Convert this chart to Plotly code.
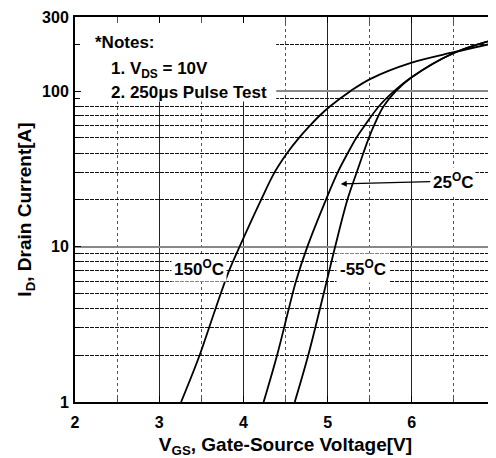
import numpy as np
import plotly.graph_objects as go

# ---- data (Vgs in V, Id in A) ----
vgs_150 = [3.26, 3.48, 3.67, 3.83, 3.955, 4.21, 4.37, 4.52, 4.66, 4.79, 4.91, 5.03, 5.27, 5.51, 5.99, 6.50, 7.00]
id_150 = [1, 2, 4, 7, 10, 20, 30, 40, 50, 60, 70, 80, 100, 120, 152, 178, 205]

vgs_25 = [4.24, 4.40, 4.54, 4.625, 4.76, 4.98, 5.12, 5.24, 5.34, 5.44, 5.61, 5.79, 5.99, 6.50, 7.00]
id_25 = [1, 2, 4, 6, 10, 20, 30, 40, 50, 60, 80, 100, 122, 176, 216]

vgs_m55 = [4.61, 4.77, 4.91, 4.99, 5.09, 5.235, 5.345, 5.425, 5.49, 5.55, 5.665, 5.81, 5.99, 6.50, 7.00]
id_m55 = [1, 2, 4, 6, 10, 20, 30, 40, 50, 60, 80, 100, 122, 176, 216]

x_ticks = [2, 3, 4, 5, 6, 7]
y_ticks = [1, 10, 100, 300]
y_tick_text = ["1", "10", "100", "300"]
y_minor = [2, 3, 4, 5, 6, 7, 8, 9, 20, 30, 40, 50, 60, 70, 80, 90, 200]

FONT = "Arial, Liberation Sans, sans-serif"

fig = go.Figure()
for vx, iy in [(vgs_150, id_150), (vgs_25, id_25), (vgs_m55, id_m55)]:
    fig.add_trace(go.Scatter(x=vx, y=iy, mode="lines",
                             line=dict(color="black", width=1.8, shape="spline", smoothing=1.0),
                             showlegend=False, hoverinfo="skip"))

# white box behind the notes (hides grid, not axes)
fig.add_shape(type="rect", xref="x", yref="y", layer="between",
              x0=2.0, x1=4.39, y0=10 ** 1.933, y1=300,
              fillcolor="white", line=dict(width=0))

def txt(s, x, y, size=17, xanchor="left", **kw):
    fig.add_annotation(text="<b>" + s + "</b>", x=x, y=y, xref="x", yref="y", showarrow=False,
                       xanchor=xanchor, yanchor="middle",
                       font=dict(family=FONT, size=size, color="black"), **kw)

txt("*Notes:", 2.213, 2.311)
txt("1. V<sub>DS</sub> = 10V", 2.406, 2.137)
txt("2. 250\u03bcs Pulse Test", 2.406, 1.993)

txt("150<sup>O</sup>C", 3.477, 0.863, xanchor="center", bgcolor="white", borderpad=2)
txt("-55<sup>O</sup>C", 5.42, 0.863, xanchor="center", bgcolor="white", borderpad=3)

fig.add_annotation(text="<b>25<sup>O</sup>C</b>", x=5.156, y=1.4026, xref="x", yref="y",
                   showarrow=True, ax=112, ay=-3, axref="pixel", ayref="pixel",
                   arrowhead=2, arrowsize=1, arrowwidth=1.2, arrowcolor="black",
                   bgcolor="white", borderpad=2,
                   font=dict(family=FONT, size=17, color="black"))

tickfont = dict(family=FONT, size=16, color="black")
# page body has an 8px margin, so the figure is sized to fit the 496x458 window
fig.update_layout(
    width=488, height=450,
    margin=dict(l=67, r=0, t=9, b=56, autoexpand=False),
    paper_bgcolor="white", plot_bgcolor="white",
    showlegend=False,
    xaxis=dict(
        range=[2, 7], tickvals=x_ticks, ticktext=["<b>%d</b>" % v for v in x_ticks],
        automargin=False,
        showgrid=True, gridcolor="#222", gridwidth=1,
        minor=dict(dtick=0.5, tick0=2, showgrid=True, gridcolor="#555", griddash="dot",
                   gridwidth=1, ticks="inside", ticklen=6, tickcolor="#555"),
        ticks="inside", ticklen=6, tickcolor="black",
        showline=True, linecolor="black", linewidth=2, mirror="allticks",
        zeroline=False, tickfont=tickfont, ticklabelstandoff=5,
        title=dict(text="<b>V<sub>GS</sub>, Gate-Source Voltage[V]</b>", standoff=13,
                   font=dict(family=FONT, size=19, color="black")),
    ),
    yaxis=dict(
        type="log", range=[0, np.log10(300)],
        tickmode="array", tickvals=y_ticks, ticktext=["<b>%s</b>" % t for t in y_tick_text],
        automargin=False,
        showgrid=True, gridcolor="#888", gridwidth=2,
        minor=dict(tickmode="array", tickvals=y_minor, showgrid=True, gridcolor="#111",
                   griddash="4px,1px", gridwidth=1, ticks="inside", ticklen=5, tickcolor="black"),
        ticks="inside", ticklen=6, tickcolor="black",
        showline=True, linecolor="black", linewidth=2, mirror="allticks",
        zeroline=False, tickfont=tickfont, ticklabelstandoff=1,
        title=dict(text="<b>I<sub>D</sub>, Drain Current[A]</b>", standoff=5,
                   font=dict(family=FONT, size=19, color="black")),
    ),
)

fig.write_html("out.html")
